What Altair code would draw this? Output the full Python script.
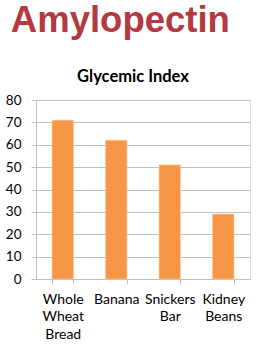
import altair as alt
import pandas as pd

foods = ["Whole Wheat Bread", "Banana", "Snickers Bar", "Kidney Beans"]
glycemic = [71, 62, 51, 29]

df = pd.DataFrame({"food": foods, "gi": glycemic})

FONT = "Lato"
GRID = "#BFBFBF"

bars = alt.Chart(df).mark_bar(color="#F79646", stroke="#FBC9A0", strokeWidth=0.6).encode(
    x=alt.X("food:N", sort=foods, title=None,
            scale=alt.Scale(paddingInner=0.6, paddingOuter=0.3),
            axis=alt.Axis(labelAngle=0, labelExpr="split(datum.label, ' ')",
                          labelLineHeight=17.5, labelFontSize=14, labelFont=FONT,
                          labelColor="#000", labelPadding=8,
                          domainColor=GRID, tickColor=GRID, tickSize=5,
                          tickBand="extent", grid=False)),
    y=alt.Y("gi:Q", title=None,
            scale=alt.Scale(domain=[0, 80]),
            axis=alt.Axis(values=list(range(0, 81, 10)), labelFontSize=13.5,
                          labelFont=FONT, labelColor="#000", labelPadding=10,
                          domainColor=GRID, tickColor=GRID, tickSize=5,
                          gridColor=GRID, grid=True)),
).properties(
    width=214, height=179,
    title=alt.TitleParams("Glycemic Index", font=FONT, fontSize=16.5, fontWeight="bold",
                          color="#000", anchor="middle", dx=-10, offset=7.5),
)

chart = alt.vconcat(bars).properties(
    title=alt.TitleParams("Amylopectin", font="Liberation Sans", fontSize=36.5,
                          fontWeight="bold", color="#B23A40", anchor="start",
                          frame="bounds", dx=6, offset=29),
    padding={"left": 4, "top": 3, "right": 5, "bottom": 5},
).configure_view(stroke=None).configure(background="white")

chart.save("out.html", embed_options={"renderer": "svg", "actions": False})
